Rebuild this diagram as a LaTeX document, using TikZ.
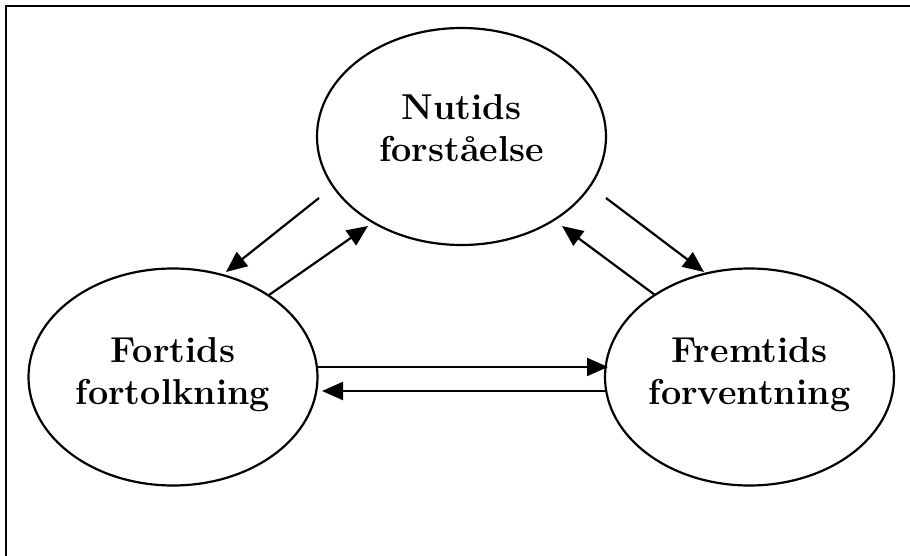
\documentclass[tikz,border=0pt]{standalone}
\usepackage{fontspec}
\usetikzlibrary{arrows.meta,calc,shapes.geometric}
\begin{document}
\begin{tikzpicture}[x=1pt,y=-1pt,
  ell/.style={draw=black,line width=2.2pt,ellipse,minimum width=289pt,minimum height=217pt,inner sep=0pt,outer sep=0pt,align=center,font=\fontsize{36}{42}\selectfont\bfseries},
  arr/.style={line width=2.2pt,-{Triangle[length=21pt,width=18pt]}},
  frame/.style={line width=2.6pt}]
\useasboundingbox (0,0) rectangle (910,556);
\draw[frame] (6,556) -- (6,6) -- (910,6);
\node[ell] (N) at (461.5,136.5) {Nutids\\forståelse\rule[-16pt]{0pt}{16pt}};
\node[ell] (F) at (173,377) {Fortids\\fortolkning\rule[-11pt]{0pt}{11pt}};
\node[ell] (R) at (749.5,377) {Fremtids\\forventning\rule[-11pt]{0pt}{11pt}};
% free ends
\coordinate (a1s) at (319,198); \coordinate (a1e) at (226,272);
\coordinate (a2s) at (269,295); \coordinate (a2e) at (368,226);
\coordinate (a3s) at (606,198); \coordinate (a3e) at (704,272);
\coordinate (a4s) at (655,295); \coordinate (a4e) at (562,226);
\coordinate (h1s) at (317,367); \coordinate (h1e) at (608,367);
\coordinate (h2s) at (606,391); \coordinate (h2e) at (322,391);
\draw[arr] (a1s) -- (a1e);
\draw[arr] (a2s) -- (a2e);
\draw[arr] (a3s) -- (a3e);
\draw[arr] (a4s) -- (a4e);
\draw[arr] (h1s) -- (h1e);
\draw[arr] (h2s) -- (h2e);
\end{tikzpicture}
\end{document}
